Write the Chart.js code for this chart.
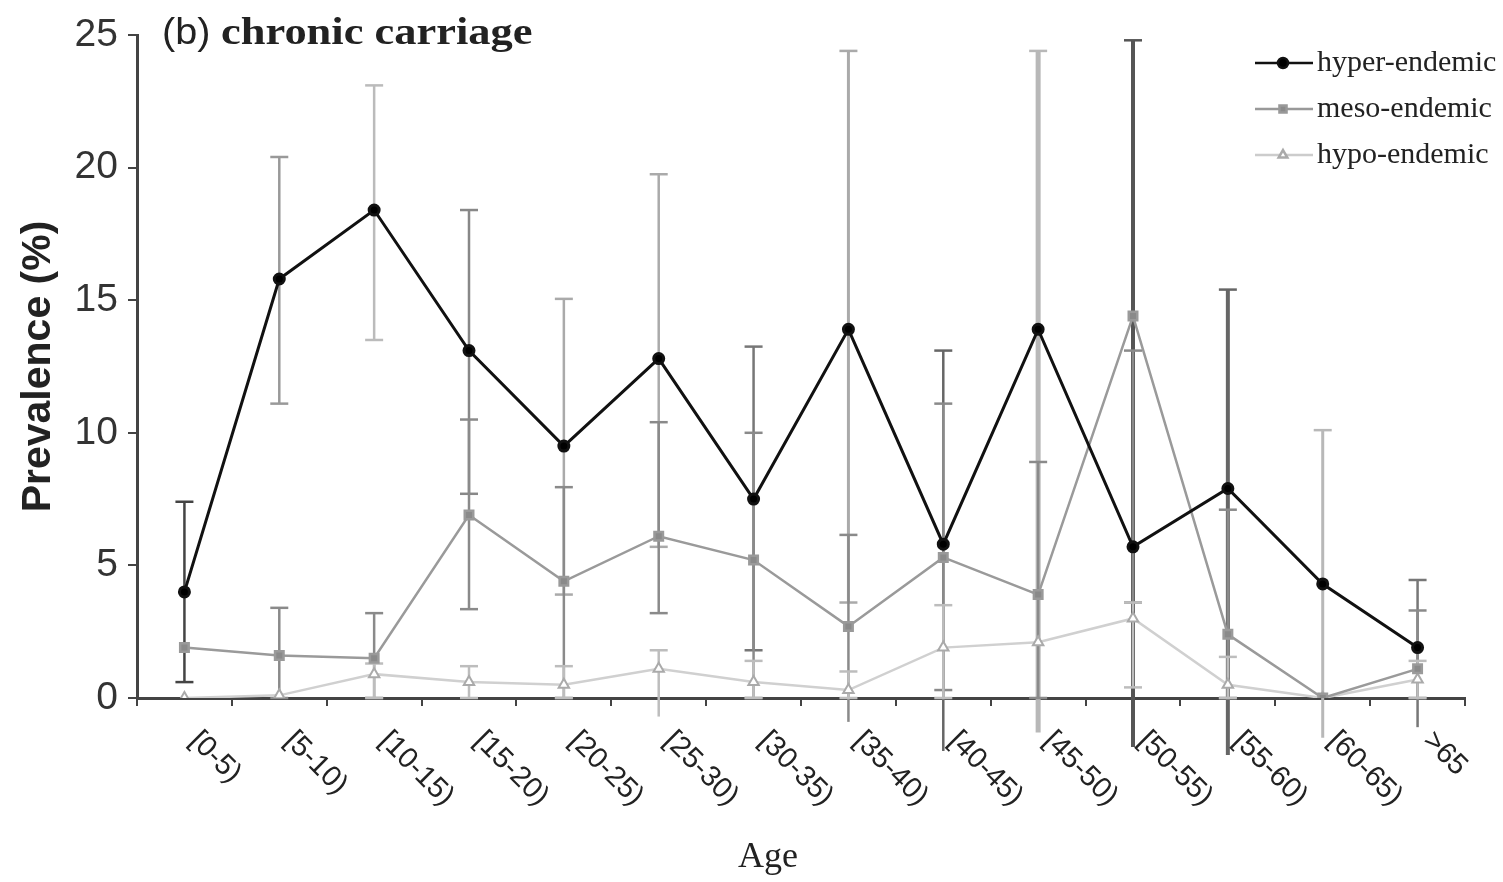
<!DOCTYPE html>
<html>
<head>
<meta charset="utf-8">
<script src="https://cdn.jsdelivr.net/npm/chart.js@4.4.1/dist/chart.umd.min.js"></script>
<style>
  html, body { margin: 0; padding: 0; background: #fff; }
  #chartCont { width: 1503px; height: 882px; }
</style>
</head>
<body>
<div id="chartCont"><canvas id="myChart"></canvas></div>
<script>
// age groups on the x axis
const ageGroups = ["[0-5)", "[5-10)", "[10-15)", "[15-20)", "[20-25)", "[25-30)", "[30-35)",
  "[35-40)", "[40-45)", "[45-50)", "[50-55)", "[55-60)", "[60-65)", ">65"];
const yTicks = [0, 5, 10, 15, 20, 25];

// prevalence (%) per endemicity level
const hyperValues = [4.0, 15.8, 18.4, 13.1, 9.5, 12.8, 7.5, 13.9, 5.8, 13.9, 5.7, 7.9, 4.3, 1.9];
const mesoValues = [1.9, 1.6, 1.5, 6.9, 4.4, 6.1, 5.2, 2.7, 5.3, 3.9, 14.4, 2.4, 0, 1.1];
const hypoValues = [0, 0.1, 0.9, 0.6, 0.5, 1.1, 0.6, 0.3, 1.9, 2.1, 3.0, 0.5, 0, 0.7];

// error bar ends (null = none)
const hyperLow = [0.6, 11.1, 13.5, 7.7, 3.9, 5.7, 1.8, 3.6, -2.0, -1.3, -1.85, -2.15, -1.5, -1.1];
const hyperHigh = [7.4, 20.4, 23.1, 18.4, 15.05, 19.75, 13.25, 24.4, 13.1, 24.4, 24.8, 15.4, 10.1, 4.45];
const mesoLow = [null, 0, 0, 3.35, 0, 3.2, 0, -0.9, 0.3, 0, 3.6, 0, null, 0];
const mesoHigh = [null, 3.4, 3.2, 10.5, 7.95, 10.4, 10.0, 6.15, 11.1, 8.9, 13.1, 7.1, null, 3.3];
const hypoLow = [null, null, 0, 0, 0, -0.7, 0, 0, 0, null, 0.4, 0, null, 0];
const hypoHigh = [null, null, 1.3, 1.2, 1.2, 1.8, 1.4, 1.0, 3.5, null, 3.6, 1.55, null, 1.4];

// shades of the hyper-endemic bars vary in the figure
const hyperBarColors = ["#444", "#999", "#bbb", "#888", "#aaa", "#aaa", "#777", "#aaa",
  "#666", "#b8b8b8", "#555", "#666", "#b8b8b8", "#777"];
const hyperBarWidths = [2.5, 2.5, 2.5, 2.5, 2.5, 2.5, 2.5, 3, 2.5, 5, 4, 4, 3, 2.5];

const sansFont = "'Liberation Sans', Arial, sans-serif";
const serifFont = "'Liberation Serif', 'Times New Roman', serif";

const errorBars = {
  id: "errorBars",
  beforeDatasetsDraw(chart) {
    const ctx = chart.ctx;
    const yScale = chart.scales.y;
    const sets = [
      { idx: 0, low: hyperLow, high: hyperHigh, color: (i) => hyperBarColors[i], width: (i) => hyperBarWidths[i] },
      { idx: 1, low: mesoLow, high: mesoHigh, color: () => "#8a8a8a", width: () => 2.5 },
      { idx: 2, low: hypoLow, high: hypoHigh, color: () => "#bdbdbd", width: () => 2.5 },
    ];
    ctx.save();
    sets.forEach((s) => {
      const meta = chart.getDatasetMeta(s.idx);
      meta.data.forEach((pt, i) => {
        if (s.low[i] === null || s.high[i] === null) return;
        const x = pt.x;
        const y1 = yScale.getPixelForValue(s.low[i]);
        const y2 = yScale.getPixelForValue(s.high[i]);
        ctx.strokeStyle = s.color(i);
        ctx.lineWidth = s.width(i);
        ctx.beginPath();
        ctx.moveTo(x, y1);
        ctx.lineTo(x, y2);
        ctx.stroke();
        ctx.lineWidth = 2.5;
        [s.low[i], s.high[i]].forEach((v) => {
          if (v < 0) return;
          const y = yScale.getPixelForValue(v);
          ctx.beginPath();
          ctx.moveTo(x - 9, y);
          ctx.lineTo(x + 9, y);
          ctx.stroke();
        });
      });
    });
    ctx.restore();
  },
};

const extraText = {
  id: "extraText",
  afterDraw(chart) {
    const ctx = chart.ctx;
    const xs = chart.scales.x;
    ctx.save();
    // rotated age labels
    ctx.fillStyle = "#222";
    ctx.font = "29px " + sansFont;
    ctx.textAlign = "left";
    ctx.textBaseline = "top";
    ageGroups.forEach((lab, i) => {
      const x = xs.getPixelForValue(i);
      ctx.save();
      ctx.translate(x + 20, 726);
      ctx.rotate(Math.PI / 4);
      ctx.fillText(lab, 0, 0);
      ctx.restore();
    });

    // x axis title
    ctx.textAlign = "center";
    ctx.textBaseline = "middle";
    ctx.font = "36px " + serifFont;
    ctx.fillText("Age", 768, 858);

    // panel title
    ctx.textAlign = "left";
    ctx.font = "36px " + sansFont;
    ctx.save();
    ctx.translate(162, 34);
    ctx.scale(1.1, 1);
    ctx.fillText("(b)", 0, 0);
    ctx.restore();
    ctx.font = "bold 38px " + serifFont;
    ctx.save();
    ctx.translate(221, 34);
    ctx.scale(1.17, 1);
    ctx.fillText("chronic carriage", 0, 0);
    ctx.restore();

    // legend
    const items = [
      { label: "hyper-endemic", color: "#111", style: "circle", fill: "#000" },
      { label: "meso-endemic", color: "#999", style: "rect", fill: "#8a8a8a" },
      { label: "hypo-endemic", color: "#ccc", style: "triangle", fill: "#fff" },
    ];
    items.forEach((it, k) => {
      const y = 63 + k * 46;
      ctx.strokeStyle = it.color;
      ctx.lineWidth = 2.5;
      ctx.beginPath();
      ctx.moveTo(1255, y);
      ctx.lineTo(1313, y);
      ctx.stroke();
      ctx.fillStyle = it.fill;
      ctx.strokeStyle = it.style === "triangle" ? "#aaa" : it.color;
      Chart.helpers.drawPoint(ctx, { pointStyle: it.style, radius: 5, borderWidth: 2 }, 1283, y);
      ctx.fillStyle = "#222";
      ctx.font = "30px " + serifFont;
      ctx.fillText(it.label, 1317, y);
    });
    ctx.restore();
  },
};

const ctx = document.getElementById("myChart");

const chart = new Chart(ctx, {
  type: "line",
  data: {
    labels: ageGroups,
    datasets: [
      {
        label: "hyper-endemic",
        data: hyperValues,
        borderColor: "#111",
        backgroundColor: "#000",
        borderWidth: 3,
        pointStyle: "circle",
        pointRadius: 5,
        tension: 0,
      },
      {
        label: "meso-endemic",
        data: mesoValues,
        borderColor: "#9a9a9a",
        backgroundColor: "#8a8a8a",
        borderWidth: 2.5,
        pointStyle: "rect",
        pointRadius: 6,
        tension: 0,
      },
      {
        label: "hypo-endemic",
        data: hypoValues,
        borderColor: "#d0d0d0",
        backgroundColor: "#fff",
        pointBorderColor: "#aaa",
        borderWidth: 2.5,
        pointStyle: "triangle",
        pointRadius: 6,
        pointBorderWidth: 2,
        tension: 0,
      },
    ],
  },
  options: {
    responsive: true,
    maintainAspectRatio: false,
    animation: false,
    layout: { padding: { top: 35, right: 38, bottom: 0, left: 0 } },
    scales: {
      x: {
        offset: true,
        grid: { offset: true, drawOnChartArea: false, drawTicks: true, tickLength: 8, color: "#444", lineWidth: 2 },
        border: { display: true, color: "#444", width: 3 },
        ticks: { display: false },
        afterFit: (scale) => { scale.height = 184; },
      },
      y: {
        min: 0,
        max: 25,
        afterBuildTicks: (scale) => { scale.ticks = yTicks.map((v) => ({ value: v })); },
        grid: { drawOnChartArea: false, drawTicks: true, tickLength: 9, color: "#444", lineWidth: 2 },
        border: { display: true, color: "#444", width: 3 },
        ticks: { color: "#333", padding: 10, font: { family: sansFont, size: 39 } },
        title: { display: true, text: "Prevalence (%)", color: "#222", font: { family: sansFont, size: 41, weight: "bold" }, padding: { top: 14, bottom: 0 } },
        afterFit: (scale) => { scale.width = 137; },
      },
    },
    plugins: {
      legend: { display: false },
      tooltip: { enabled: false },
    },
  },
  plugins: [errorBars, extraText],
});
</script>
</body>
</html>
